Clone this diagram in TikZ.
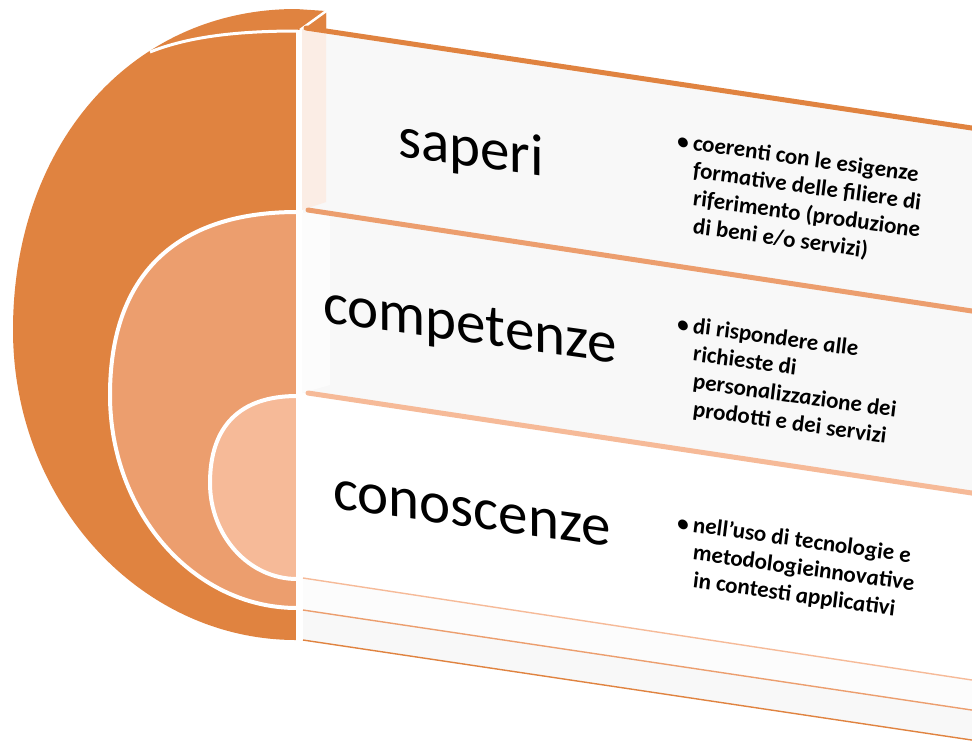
\documentclass[tikz,border=0pt]{standalone}
\usepackage{fontspec}
\setmainfont{Carlito}
\usetikzlibrary{calc}
\definecolor{dark}{RGB}{224,131,64}
\definecolor{mid}{RGB}{236,158,110}
\definecolor{light}{RGB}{246,186,152}
\definecolor{peach}{RGB}{251,237,229}
\definecolor{face}{RGB}{248,248,248}
\definecolor{face2}{RGB}{252,252,252}
\begin{document}
\begin{tikzpicture}[x=1pt,y=-1pt,
  sep/.style={draw=white,line width=4pt,line join=round},
  topedge/.style={line width=5pt,line cap=round},
  botedge/.style={line width=1.4pt},
  mainlbl/.style={font=\fontsize{59}{70}\selectfont,anchor=base west,yslant=-0.14,inner sep=0pt},
  bullbl/.style={font=\bfseries\itshape\fontsize{23}{27.7}\selectfont,anchor=base west,yslant=-0.14,inner sep=0pt}]
\useasboundingbox (0,0) rectangle (972,740);
\fill[white] (0,0) rectangle (972,740);
% end points of panel edges
\coordinate (a1) at (303,28);  \coordinate (b1) at (985,130);
\coordinate (a2) at (303,210); \coordinate (b2) at (985,313);
\coordinate (a3) at (303,393); \coordinate (b3) at (985,495);
\coordinate (a4) at (303,578); \coordinate (b4) at (985,682);
\coordinate (a5) at (303,610); \coordinate (b5) at (985,712);
\coordinate (a6) at (303,640); \coordinate (b6) at (985,742);
% outer ring (with its top face)
\fill[dark] (326,11) -- (296,9) .. controls (132,9) and (13,144) .. (13,330)
  .. controls (13,501) and (140,640) .. (296,640) -- (296,30) -- (326,30) -- cycle;
\draw[white,line width=3pt] (298,31) .. controls (240,31) and (190,36) .. (150,52);
% middle ring
\filldraw[fill=mid,sep] (297,212) .. controls (175,212) and (110,276) .. (110,395)
  .. controls (110,513) and (194,608) .. (297,608);
% inner disk
\filldraw[fill=light,sep] (297,396) .. controls (240,396) and (210,426) .. (210,483)
  .. controls (210,536) and (249,579) .. (297,579);
% white gap
\fill[white] (296,30) rectangle (302,650);
% panel faces
\fill[face] (a1) -- (b1) -- (b2) -- (a2) -- cycle;
\fill[face] (a2) -- (b2) -- (b3) -- (a3) -- cycle;
\fill[white] (a3) -- (b3) -- (b4) -- (a4) -- cycle;
\fill[face2] (a4) -- (b4) -- (b5) -- (a5) -- cycle;
\fill[face] (a5) -- (b5) -- (b6) -- (a6) -- cycle;
\fill[peach] (302,30) -- (326,15) -- (326,202) -- (302,210) -- cycle;
\fill[face2] (302,213) -- (330,213) -- (330,385) -- (302,393) -- cycle;
% corner of the top face
\fill[dark] (302,29) -- (326,13) -- (326,31) -- cycle;
\draw[white,line width=2.5pt] (329,9) -- (300,30);
% edges
\draw[topedge,dark] ($(a1)+(3,0)$) -- (b1);
\draw[topedge,mid] ($(a2)+(5,0)$) -- (b2);
\draw[topedge,light] ($(a3)+(5,0)$) -- (b3);
\draw[botedge,light] (a4) -- (b4);
\draw[botedge,mid] (a5) -- (b5);
\draw[botedge,dark] (a6) -- (b6);
% labels
\node[mainlbl] (saperi) at (398,156) {saperi};
\node[mainlbl] (competenze) at (323,322) {competenze};
\node[mainlbl] (conoscenze) at (333,508) {conoscenze};
\node[bullbl] (t1) at (677,148) {\makebox[16pt][l]{\textbullet}\begin{tabular}[t]{@{}l@{}}coerenti con le esigenze\\formative delle filiere di\\riferimento (produzione\\di beni e/o servizi)\end{tabular}};
\node[bullbl] (t2) at (677,331) {\makebox[16pt][l]{\textbullet}\begin{tabular}[t]{@{}l@{}}di rispondere alle\\richieste di\\personalizzazione dei\\prodotti e dei servizi\end{tabular}};
\node[bullbl] (t3) at (677,530) {\makebox[16pt][l]{\textbullet}\begin{tabular}[t]{@{}l@{}}nell’uso di tecnologie e\\metodologieinnovative\\in contesti applicativi\end{tabular}};
\end{tikzpicture}
\end{document}
